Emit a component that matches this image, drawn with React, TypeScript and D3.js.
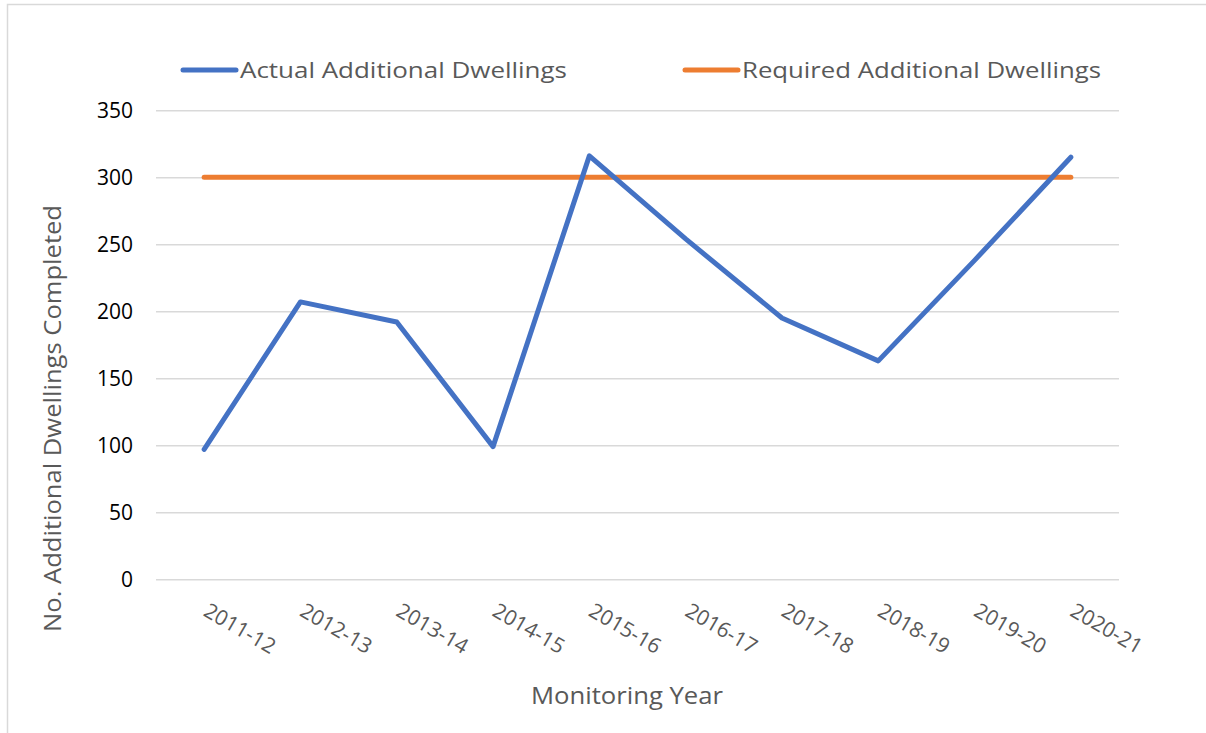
import React, { useEffect, useRef } from 'react';
import * as d3 from 'd3';

// Monitoring years and completions
const years = ['2011-12', '2012-13', '2013-14', '2014-15', '2015-16', '2016-17', '2017-18', '2018-19', '2019-20', '2020-21'];
const actual = [97, 207, 192, 99, 316, 254, 195, 163, 238, 315];
const required = [300, 300, 300, 300, 300, 300, 300, 300, 300, 300];
const yTicks = [0, 50, 100, 150, 200, 250, 300, 350];

const BLUE = '#4472c4';
const ORANGE = '#ed7d31';
const GREY = '#595959';
const FONT = '"Open Sans", sans-serif';

export default function App() {
  const ref = useRef<SVGSVGElement>(null);

  useEffect(() => {
    const width = 1206;
    const height = 733;
    const plot = { left: 156, right: 1119, top: 110.3, bottom: 579.3 };

    const svg = d3.select(ref.current);
    svg.selectAll('*').remove();

    svg.append('rect')
      .attr('x', 0).attr('y', 0).attr('width', width).attr('height', height)
      .attr('fill', '#fff');

    // chart frame (only the left and top edges show in the shot)
    svg.append('path')
      .attr('d', `M7.5,${height} V4.5 H${width}`)
      .attr('fill', 'none')
      .attr('stroke', '#d9d9d9')
      .attr('stroke-width', 1.5);

    const x = d3.scaleBand<string>()
      .domain(years)
      .range([plot.left, plot.right]);
    const cx = (d: string) => (x(d) as number) + x.bandwidth() / 2;

    const y = d3.scaleLinear()
      .domain([0, 350])
      .range([plot.bottom, plot.top]);

    // gridlines + y labels
    const yAxis = svg.append('g')
      .attr('transform', `translate(${plot.left},0)`)
      .call(d3.axisLeft(y).tickValues(yTicks).tickSize(-(plot.right - plot.left)).tickPadding(23).tickFormat(d3.format('d')));
    yAxis.select('.domain').remove();
    yAxis.selectAll('.tick line').attr('stroke', '#d9d9d9').attr('stroke-width', 1.5);
    yAxis.selectAll('.tick text')
      .attr('fill', '#000')
      .style('font-family', FONT)
      .style('font-size', '21px');

    // x labels, rotated
    svg.append('g')
      .selectAll('text')
      .data(years)
      .join('text')
      .attr('transform', d => `translate(${cx(d) - 2},615) rotate(30)`)
      .attr('fill', GREY)
      .style('font-family', FONT)
      .style('font-size', '21px')
      .text(d => d);

    const line = d3.line<number>()
      .x((_, i) => cx(years[i]))
      .y(d => y(d));

    svg.append('path')
      .attr('d', line(required))
      .attr('fill', 'none')
      .attr('stroke', ORANGE)
      .attr('stroke-width', 5)
      .attr('stroke-linecap', 'round');

    svg.append('path')
      .attr('d', line(actual))
      .attr('fill', 'none')
      .attr('stroke', BLUE)
      .attr('stroke-width', 5)
      .attr('stroke-linecap', 'round')
      .attr('stroke-linejoin', 'round');

    // legend
    const legend = [
      { name: 'Actual Additional Dwellings', color: BLUE, x: 183, len: 327 },
      { name: 'Required Additional Dwellings', color: ORANGE, x: 685, len: 359 },
    ];
    const lg = svg.append('g').selectAll('g').data(legend).join('g')
      .attr('transform', d => `translate(${d.x},70)`);
    lg.append('line')
      .attr('x1', 0).attr('x2', 53).attr('y1', 0).attr('y2', 0)
      .attr('stroke', d => d.color)
      .attr('stroke-width', 5)
      .attr('stroke-linecap', 'round');
    lg.append('text')
      .attr('x', 57).attr('y', 8)
      .attr('fill', GREY)
      .attr('textLength', d => d.len)
      .attr('lengthAdjust', 'spacingAndGlyphs')
      .style('font-family', FONT)
      .style('font-size', '22px')
      .text(d => d.name);

    // axis titles
    svg.append('text')
      .attr('transform', `translate(61,${(205 + 632) / 2}) rotate(-90)`)
      .attr('text-anchor', 'middle')
      .attr('fill', GREY)
      .attr('textLength', 427)
      .attr('lengthAdjust', 'spacingAndGlyphs')
      .style('font-family', FONT)
      .style('font-size', '23px')
      .text('No. Additional Dwellings Completed');

    svg.append('text')
      .attr('x', 627).attr('y', 704)
      .attr('text-anchor', 'middle')
      .attr('fill', GREY)
      .attr('textLength', 192)
      .attr('lengthAdjust', 'spacingAndGlyphs')
      .style('font-family', FONT)
      .style('font-size', '23px')
      .text('Monitoring Year');
  }, []);

  return (
    <svg
      ref={ref}
      width={1206}
      height={733}
      style={{ position: 'absolute', left: 0, top: 0, display: 'block' }}
    />
  );
}
